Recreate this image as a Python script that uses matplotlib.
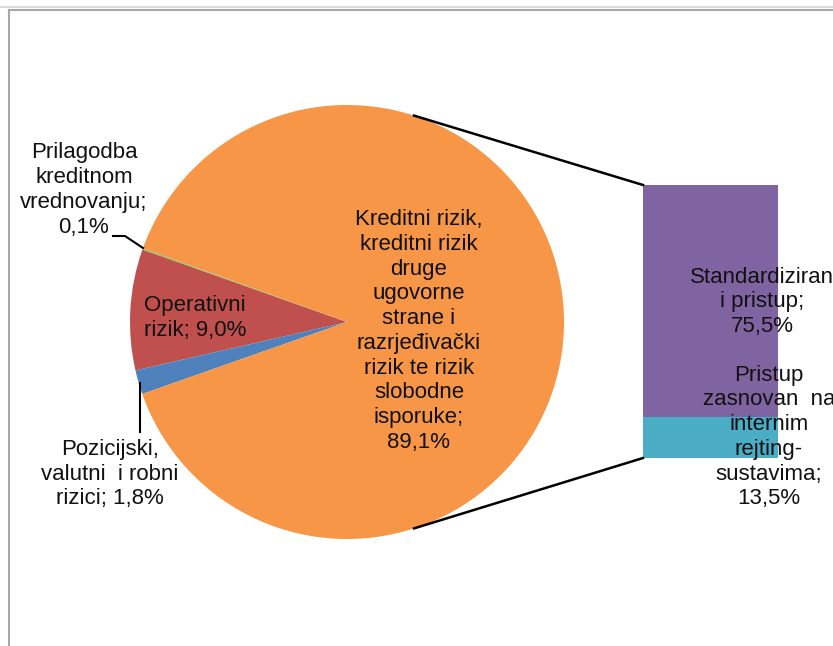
import numpy as np
import matplotlib
matplotlib.use("Agg")
import matplotlib.pyplot as plt

plt.rcParams["font.family"] = ["Liberation Sans", "DejaVu Sans"]

# Pie data (counter-clockwise order starting from the top of the red slice)
pie_names = [
    "Operativni\nrizik",
    "Pozicijski,\nvalutni  i robni\nrizici",
    "Kreditni rizik,\nkreditni rizik\ndruge\nugovorne\nstrane i\nrazrjeđivački\nrizik te rizik\nslobodne\nisporuke",
    "Prilagodba\nkreditnom\nvrednovanju",
]
pie_values = [9.0, 1.8, 89.1, 0.1]
pie_colors = ["#C0504D", "#4F81BD", "#F79646", "#9BBB59"]

# Bar breakdown of the credit risk slice (bottom to top)
bar_names = ["Pristup\nzasnovan  na\ninternim\nrejting-\nsustavima", "Standardiziran\ni pristup"]
bar_values = [13.5, 75.5]
bar_colors = ["#4BACC6", "#8064A2"]


def fmt(v):
    return f"{v:.1f}".replace(".", ",") + "%"


W, H = 833, 646
fig = plt.figure(figsize=(W / 100, H / 100), dpi=100)

# pie placed in pixel layout
cx, cy, r = 347, 322, 217
pad = 1.05
half = r * pad
ax_pie = fig.add_axes([(cx - half) / W, (H - cy - half) / H, 2 * half / W, 2 * half / H])
ax_pie.pie(pie_values, colors=pie_colors, startangle=160.5, counterclock=True,
           radius=1, wedgeprops=dict(linewidth=0))
ax_pie.set_xlim(-pad, pad)
ax_pie.set_ylim(-pad, pad)
ax_pie.set_aspect("equal")
ax_pie.axis("off")

# stacked bar
bx0, by0, bx1, by1 = 643, 185, 778, 458
ax_bar = fig.add_axes([bx0 / W, (H - by1) / H, (bx1 - bx0) / W, (by1 - by0) / H])
bottom = 0
for v, c in zip(bar_values, bar_colors):
    ax_bar.bar(0, v, bottom=bottom, width=1, color=c, linewidth=0)
    bottom += v
ax_bar.set_xlim(-0.5, 0.5)
ax_bar.set_ylim(0, sum(bar_values))
ax_bar.axis("off")

# overlay in image pixel coordinates for labels and lines
ov = fig.add_axes([0, 0, 1, 1], zorder=5)
ov.set_xlim(0, W)
ov.set_ylim(H, 0)
ov.axis("off")
ov.patch.set_alpha(0)

# frame
ov.plot([0, W], [7, 7], color="#d9d9d9", lw=1.5)
ov.plot([9, W], [10, 10], color="#a6a6a6", lw=1.5)
ov.plot([9, 9], [10, H], color="#a6a6a6", lw=1.5)

# connector lines from pie to bar
for ang, by in [(72, by0), (-72, by1)]:
    px = cx + r * np.cos(np.radians(ang))
    py = cy - r * np.sin(np.radians(ang))
    ov.plot([px, bx0], [py, by], color="black", lw=1.8)

fs = 16
txt = dict(ha="center", va="center", fontsize=fs, color="#111111", linespacing=1.235)

ov.text(195, 318, pie_names[0] + "; " + fmt(pie_values[0]), **txt)
ov.text(110, 474, pie_names[1] + "; " + fmt(pie_values[1]), **txt)
ov.text(419, 331, pie_names[2] + ";\n" + fmt(pie_values[2]), **txt)
ov.text(84, 190, pie_names[3] + ";\n" + fmt(pie_values[3]), **txt)

ov.text(762, 302, bar_names[1] + ";\n" + fmt(bar_values[1]), **txt)
ov.text(769, 437, bar_names[0] + ";\n" + fmt(bar_values[0]), **txt)

# leader lines
ov.plot([113, 125, 143], [236, 236, 248], color="black", lw=1.5)
ov.plot([140, 140], [383, 432], color="black", lw=1.5)

fig.savefig("out.png", dpi=100)
